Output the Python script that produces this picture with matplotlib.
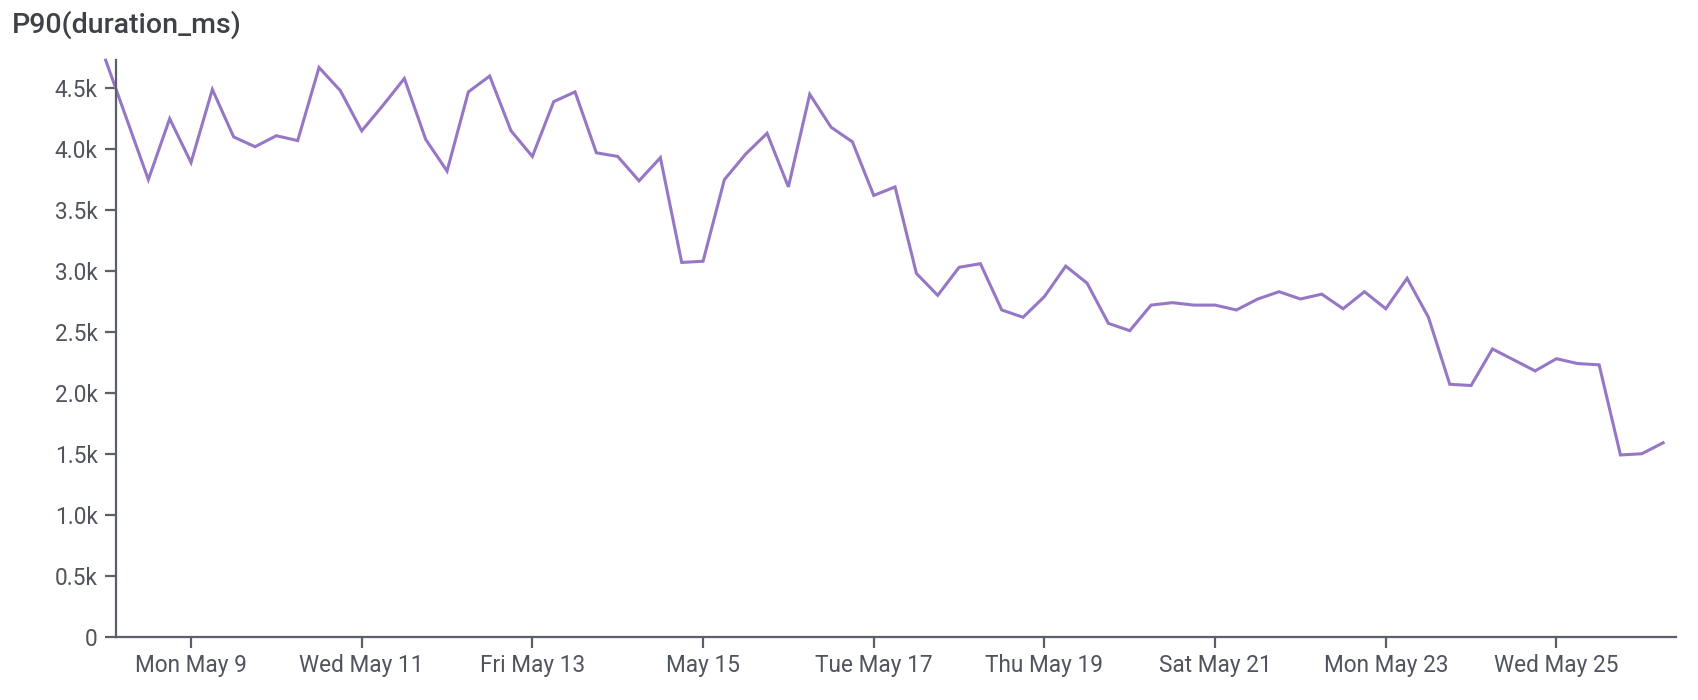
import numpy as np
import pandas as pd
import matplotlib
matplotlib.use("Agg")
import matplotlib.pyplot as plt
import matplotlib.dates as mdates

# P90 duration, one point every 6 hours from May 8 00:00 (values in ms)
times = pd.date_range("2022-05-08 00:00", periods=74, freq="6h")
p90 = [4730, 4240, 3750, 4250, 3890, 4490, 4100, 4020, 4110, 4070,
       4670, 4480, 4150, 4360, 4580, 4080, 3820, 4470, 4600, 4150,
       3940, 4390, 4470, 3970, 3940, 3740, 3930, 3070, 3080, 3750,
       3960, 4130, 3690, 4450, 4180, 4060, 3620, 3690, 2980, 2800,
       3030, 3060, 2680, 2620, 2790, 3040, 2900, 2570, 2510, 2720,
       2740, 2720, 2720, 2680, 2770, 2830, 2770, 2810, 2690, 2830,
       2690, 2940, 2620, 2070, 2060, 2360, 2270, 2180, 2280, 2240,
       2230, 1490, 1500, 1590]

tick_days = pd.date_range("2022-05-09", "2022-05-25", freq="2D")
tick_labels = ["Mon May 9", "Wed May 11", "Fri May 13", "May 15", "Tue May 17",
               "Thu May 19", "Sat May 21", "Mon May 23", "Wed May 25"]
y_ticks = [0, 500, 1000, 1500, 2000, 2500, 3000, 3500, 4000, 4500]

axis_col = '#5b5f67'
text_col = '#50545c'
line_col = '#9577c6'

plt.rcParams['font.family'] = ['Roboto', 'DejaVu Sans']

fig = plt.figure(figsize=(16.98, 7.0), dpi=100)
ax = fig.add_axes([0.0681, 0.0907, 0.987 - 0.0681, 0.914 - 0.0907])

ax.plot(times, p90, color=line_col, lw=2.2, clip_on=False, solid_joinstyle='miter')

ax.set_ylim(0, 4730)
ax.set_xlim(times[0] + pd.Timedelta(hours=2.8), times[0] + pd.Timedelta(hours=441.6))

ax.set_yticks(y_ticks)
ax.set_yticklabels(["0" if v == 0 else "%.1fk" % (v / 1000) for v in y_ticks])
ax.set_xticks(mdates.date2num(tick_days.to_pydatetime()))
ax.set_xticklabels(tick_labels)

for s in ['top', 'right']:
    ax.spines[s].set_visible(False)
for s in ['left', 'bottom']:
    ax.spines[s].set_color(axis_col)
    ax.spines[s].set_linewidth(1.6)

ax.tick_params(axis='both', colors=axis_col, labelcolor=text_col, length=8,
               width=1.6, labelsize=16.3)
ax.tick_params(axis='y', pad=5)
ax.tick_params(axis='x', pad=4.5)

fig.text(0.007, 0.965, "P90(duration_ms)", fontsize=20.5, fontweight='medium',
         color='#3e4147', ha='left', va='center')

fig.savefig("out.png", dpi=100, facecolor='white')
